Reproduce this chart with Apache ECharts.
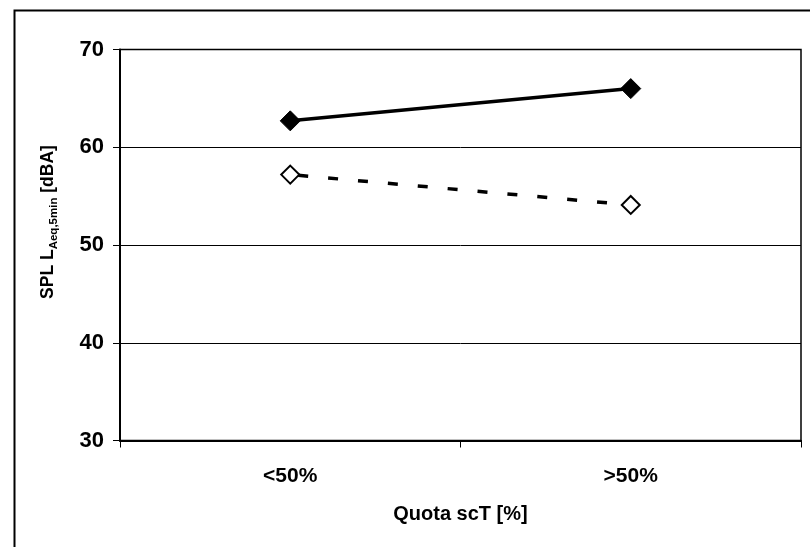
<!DOCTYPE html>
<html>
<head>
<meta charset="utf-8">
<script src="https://cdn.jsdelivr.net/npm/echarts@6/dist/echarts.min.js"></script>
<style>html,body{margin:0;padding:0;background:#fff}#c{width:810px;height:547px}</style>
</head>
<body>
<div id="c"></div>
<script>
var categories = ['<50%', '>50%'];
var seriesSolid = [62.7, 66.0];
var seriesDashed = [57.2, 54.1];
var yTicks = {min: 30, max: 70, interval: 10};
var xTitle = 'Quota scT [%]';
var yTitle = '{a|SPL L}{s|Aeq,5min}{a| [dBA]}';

var chart = echarts.init(document.getElementById('c'), null, {renderer: 'canvas'});
var font = 'Liberation Sans, Arial, sans-serif';
chart.setOption({
  animation: false,
  backgroundColor: '#fff',
  graphic: [{
    type: 'rect', left: 12, top: 8, z: -10, silent: true,
    shape: {width: 1000, height: 1000},
    style: {fill: 'none', stroke: '#000', lineWidth: 2}
  }, {
    type: 'text', x: 45, y: 222, rotation: Math.PI / 2, silent: true,
    style: {
      text: yTitle, align: 'center', verticalAlign: 'middle', fill: '#000',
      fontFamily: font, fontWeight: 'bold', fontSize: 17.5,
      rich: {
        a: {fontFamily: font, fontWeight: 'bold', fontSize: 17.5, fill: '#000', lineHeight: 24, verticalAlign: 'bottom'},
        s: {fontFamily: font, fontWeight: 'bold', fontSize: 11.5, fill: '#000', lineHeight: 24, verticalAlign: 'bottom', padding: [0, 0, -3, 0]}
      }
    }
  }],
  grid: {left: 120, right: 9, top: 49.5, bottom: 106.5, show: true, borderColor: '#000', borderWidth: 1.5, backgroundColor: 'transparent'},
  xAxis: {
    type: 'category', data: categories, boundaryGap: true,
    axisLine: {lineStyle: {color: '#000', width: 2}},
    axisTick: {show: true, length: 7, lineStyle: {color: '#000', width: 1}},
    axisLabel: {color: '#000', fontFamily: font, fontWeight: 'bold', fontSize: 21, margin: 25},
    name: xTitle, nameLocation: 'middle', nameGap: 64,
    nameTextStyle: {color: '#000', fontFamily: font, fontWeight: 'bold', fontSize: 20}
  },
  yAxis: {
    type: 'value', min: yTicks.min, max: yTicks.max, interval: yTicks.interval,
    axisLine: {show: true, lineStyle: {color: '#000', width: 2}},
    axisTick: {show: true, length: 7, lineStyle: {color: '#000', width: 1}},
    splitLine: {show: true, lineStyle: {color: '#000', width: 1}},
    axisLabel: {color: '#000', fontFamily: font, fontWeight: 'bold', fontSize: 22, margin: 16}
  },
  series: [{
    type: 'line', data: seriesSolid, symbol: 'diamond', symbolSize: 20,
    lineStyle: {color: '#000', width: 3.5},
    itemStyle: {color: '#000', borderColor: '#000', borderWidth: 1}
  }, {
    type: 'line', data: seriesDashed, symbol: 'diamond', symbolSize: 18,
    lineStyle: {color: '#000', width: 3.5, type: [10, 20], dashOffset: -8},
    itemStyle: {color: '#fff', borderColor: '#000', borderWidth: 2}
  }]
});
</script>
</body>
</html>
